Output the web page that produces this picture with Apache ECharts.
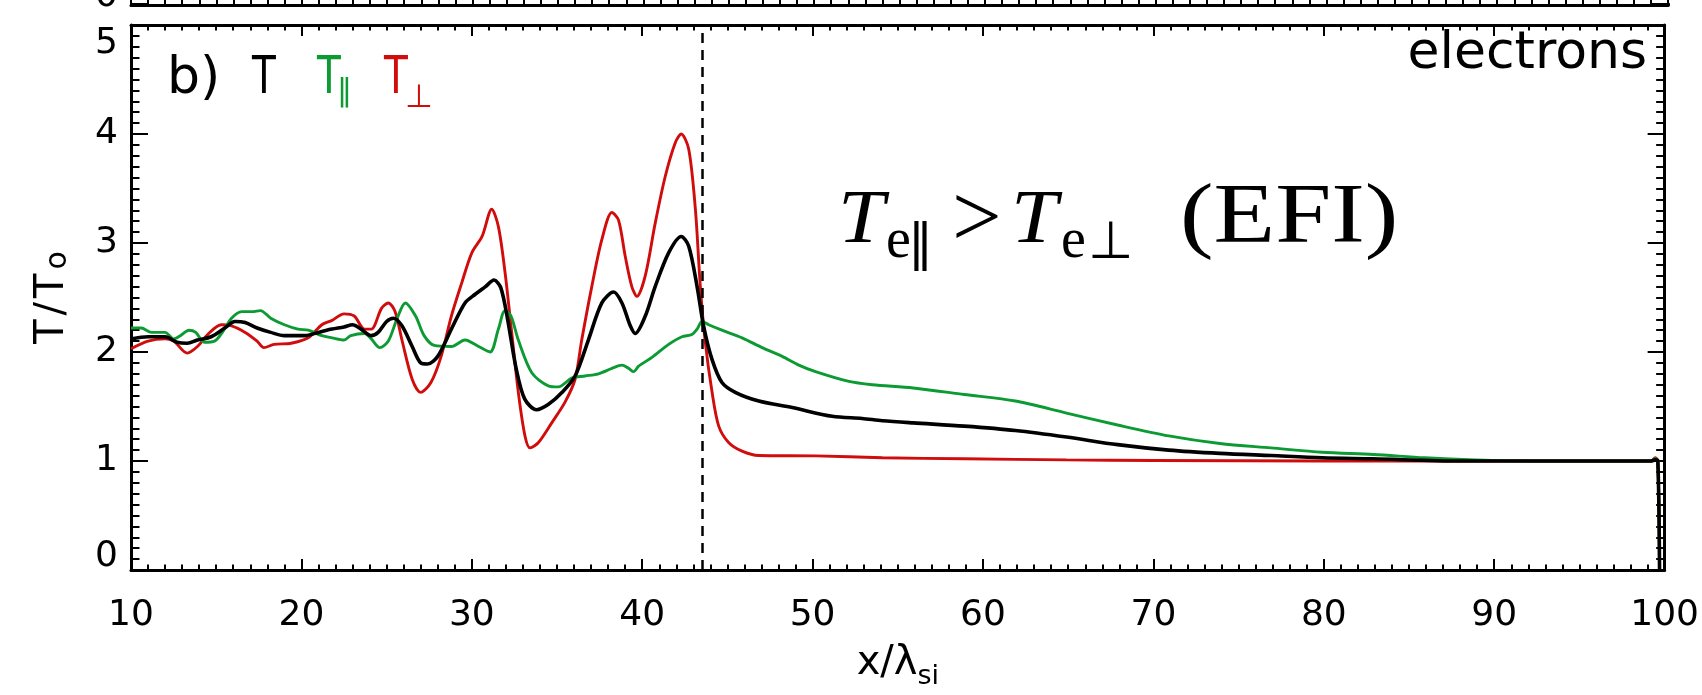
<!DOCTYPE html>
<html>
<head>
<meta charset="utf-8">
<script src="https://cdn.jsdelivr.net/npm/echarts@6/dist/echarts.min.js"></script>
<style>
  html, body { margin: 0; padding: 0; background: #fff; }
  #chart { width: 1702px; height: 695px; }
</style>
</head>
<body>
<div id="chart"></div>
<script>
// Electron temperature profiles across the shock, normalised to T0.
const xTicks = [10, 20, 30, 40, 50, 60, 70, 80, 90, 100];
const yTicks = [0, 1, 2, 3, 4, 5];
const shockX = 43.5;

// total temperature T
const tX = [10.0, 11.0, 12.0, 12.7, 13.3, 13.9, 14.7, 15.5, 16.1, 16.7, 17.4, 18.2, 19.0, 20.2, 21.0, 21.8, 22.5, 23.0, 23.5, 24.1,
  24.5, 25.0, 25.4, 25.9, 26.5, 27.0, 27.4, 28.0, 28.8, 29.6, 30.2, 30.8, 31.3, 31.7, 32.1, 32.6, 33.1, 33.8, 34.5, 35.3,
  36.06, 36.84, 37.63, 38.32, 38.81, 39.3, 39.59, 40.18, 40.76, 41.55, 42.29, 42.73, 43.22, 43.6, 44.1, 44.68, 45.46, 46.84, 48.8, 51.15,
  52.9, 54.1, 55.9, 58.9, 61.9, 64.9, 67.9, 70.9, 73.9, 76.9, 79.9, 82.9, 88.0, 95.0, 99.2, 99.45, 99.6, 99.7];
const tY = [2.12, 2.14, 2.14, 2.09, 2.08, 2.11, 2.14, 2.22, 2.28, 2.27, 2.22, 2.18, 2.15, 2.15, 2.18, 2.21, 2.23, 2.25, 2.21, 2.15,
  2.18, 2.28, 2.31, 2.24, 2.05, 1.90, 1.89, 1.96, 2.21, 2.45, 2.53, 2.60, 2.66, 2.59, 2.30, 1.85, 1.57, 1.47, 1.52, 1.63,
  1.78, 2.11, 2.45, 2.55, 2.45, 2.24, 2.17, 2.33, 2.60, 2.91, 3.06, 2.97, 2.60, 2.24, 1.93, 1.72, 1.63, 1.55, 1.49, 1.41,
  1.39, 1.37, 1.35, 1.32, 1.28, 1.22, 1.15, 1.10, 1.07, 1.05, 1.03, 1.02, 1.00, 1.00, 1.00, 1.01, 1.00, 0.0];

// parallel temperature T_par
const tParX = [10.0, 10.6, 11.2, 12.0, 12.5, 12.9, 13.4, 13.8, 14.3, 14.9, 15.4, 15.9, 16.5, 17.1, 17.6, 18.2, 19.0, 19.8, 20.4, 21.2,
  21.8, 22.5, 22.9, 23.7, 24.1, 24.6, 25.1, 25.6, 26.1, 26.7, 27.2, 27.8, 28.8, 29.6, 30.4, 31.07, 31.56, 31.95, 32.3, 32.73,
  33.52, 34.49, 35.08, 35.86, 36.64, 37.43, 38.22, 38.81, 39.2, 39.5, 39.79, 40.57, 41.55, 42.33, 42.92, 43.22, 43.51, 43.9, 44.68, 45.86,
  47.04, 48.21, 49.19, 50.17, 52.13, 53.5, 55.9, 58.9, 61.9, 64.9, 67.9, 70.9, 73.9, 76.9, 79.9, 82.9, 85.9, 88.9, 92.0, 99.2,
  99.45, 99.6, 99.7];
const tParY = [2.22, 2.22, 2.18, 2.18, 2.12, 2.15, 2.20, 2.18, 2.09, 2.10, 2.19, 2.31, 2.37, 2.37, 2.38, 2.31, 2.25, 2.21, 2.20, 2.15,
  2.13, 2.11, 2.15, 2.17, 2.12, 2.04, 2.10, 2.30, 2.45, 2.33, 2.15, 2.06, 2.05, 2.11, 2.05, 2.00, 2.21, 2.38, 2.33, 2.11,
  1.81, 1.69, 1.68, 1.76, 1.78, 1.80, 1.85, 1.88, 1.85, 1.82, 1.87, 1.95, 2.07, 2.14, 2.16, 2.21, 2.28, 2.25, 2.20, 2.13,
  2.04, 1.96, 1.88, 1.82, 1.73, 1.70, 1.67, 1.61, 1.55, 1.44, 1.33, 1.23, 1.16, 1.12, 1.08, 1.06, 1.03, 1.01, 1.00, 1.00,
  1.02, 1.00, 0.0];

// perpendicular temperature T_perp
const tPerpX = [10.0, 11.0, 12.0, 12.5, 13.3, 13.9, 14.5, 15.3, 15.9, 16.7, 17.4, 17.8, 18.4, 19.4, 20.4, 21.2, 21.8, 22.5, 23.1, 23.7,
  24.1, 24.7, 25.1, 25.5, 25.9, 26.5, 27.0, 27.6, 28.2, 28.8, 29.4, 30.0, 30.6, 31.17, 31.56, 31.95, 32.34, 32.73, 33.12, 33.42,
  33.91, 34.69, 35.47, 36.06, 36.45, 37.04, 37.63, 38.22, 38.61, 39.0, 39.39, 39.69, 40.18, 40.76, 41.35, 41.94, 42.29, 42.73, 43.12, 43.41,
  43.7, 44.1, 44.49, 45.07, 45.86, 46.84, 50.2, 54.1, 58.9, 64.9, 70.0, 80.0, 90.0, 99.2, 99.45, 99.6, 99.7];
const tPerpY = [2.03, 2.10, 2.12, 2.10, 1.99, 2.05, 2.16, 2.25, 2.24, 2.18, 2.10, 2.04, 2.07, 2.08, 2.13, 2.25, 2.29, 2.35, 2.33, 2.21,
  2.21, 2.40, 2.45, 2.37, 2.11, 1.75, 1.63, 1.72, 1.96, 2.33, 2.63, 2.91, 3.06, 3.31, 3.15, 2.73, 2.18, 1.63, 1.23, 1.12,
  1.17, 1.35, 1.54, 1.75, 2.11, 2.60, 3.03, 3.28, 3.21, 2.88, 2.60, 2.51, 2.70, 3.18, 3.61, 3.92, 4.00, 3.86, 3.31, 2.60,
  2.09, 1.63, 1.32, 1.17, 1.09, 1.05, 1.047, 1.03, 1.02, 1.01, 1.005, 1.00, 1.00, 1.00, 1.03, 1.00, 0.0];

const SANS = '"DejaVu Sans", sans-serif';
const SERIF = '"Liberation Serif", "DejaVu Serif", serif';
const RED = '#d00c0c';
const GREEN = '#0c9a33';

const pairs = (xs, ys) => xs.map((x, i) => [x, ys[i]]);

const lineStyle = { color: '#000', width: 3 };
const tickStyle = { color: '#000', width: 2 };
const digit = { fontFamily: SANS, fontSize: 36, color: '#000' };

function xAxisDef(gridIndex, position, withLabels) {
  const ax = {
    type: 'value', gridIndex, position,
    min: xTicks[0], max: xTicks[xTicks.length - 1], interval: xTicks[1] - xTicks[0],
    axisLine: { show: true, onZero: false, lineStyle },
    axisTick: { show: true, inside: true, length: 11, lineStyle: tickStyle },
    minorTick: { show: true, splitNumber: 10, length: 5.5, lineStyle: tickStyle },
    splitLine: { show: false },
    axisLabel: { show: false }
  };
  if (withLabels) {
    ax.axisLabel = Object.assign({ show: true, margin: 28 }, digit);
    ax.name = '{m|x/λ}{s|si}';
    ax.nameLocation = 'middle';
    ax.nameGap = 67;
    ax.nameTextStyle = {
      rich: {
        m: { fontFamily: SANS, fontSize: 40, color: '#000' },
        s: { fontFamily: SANS, fontSize: 27, color: '#000', padding: [26, 0, 0, 0] }
      }
    };
  }
  return ax;
}

// lower panel: full 0..5 scale; upper panel: only its bottom edge shows above the lower one
function yAxisDef(gridIndex, position, labelMode, maxVal) {
  const ax = {
    type: 'value', gridIndex, position,
    min: yTicks[0], max: maxVal, interval: yTicks[1] - yTicks[0],
    axisLine: { show: true, onZero: false, lineStyle },
    axisTick: { show: true, inside: true, length: 17, lineStyle: tickStyle },
    minorTick: { show: true, splitNumber: 10, length: 8.5, lineStyle: tickStyle },
    splitLine: { show: false },
    axisLabel: { show: false }
  };
  if (labelMode) {
    const rich = {
      n: digit,
      hi: Object.assign({ padding: [38, 0, 0, 0] }, digit),
      lo: Object.assign({ padding: [0, 0, 26, 0] }, digit),
      edge: Object.assign({ padding: [0, 0, 17, 0] }, digit)
    };
    ax.axisLabel = {
      show: true, margin: 13, rich,
      formatter: v => {
        if (labelMode === 'zeroOnly') return v === yTicks[0] ? '{edge|' + v + '}' : '';
        if (v === yTicks[yTicks.length - 1]) return '{hi|' + v + '}';
        if (v === yTicks[0]) return '{lo|' + v + '}';
        return '{n|' + v + '}';
      }
    };
  }
  if (labelMode === 'all') {
    ax.name = '{t|T}{sl|/}{t|T}{s|o}';
    ax.nameLocation = 'middle';
    ax.nameGap = 58;
    ax.nameRotate = 90;
    ax.nameTextStyle = {
      rich: {
        t: { fontFamily: SANS, fontSize: 40, color: '#000', padding: [0, 4, 0, 0] },
        sl: { fontFamily: SANS, fontSize: 40, color: '#000', padding: [0, 4, 0, 0] },
        s: { fontFamily: SANS, fontSize: 30, color: '#000', padding: [10, 0, 0, 0] }
      }
    };
  }
  return ax;
}

function txt(text, x, y, size, family, color, extra, scaleX) {
  const el = {
    type: 'text', x, y, silent: true,
    style: Object.assign({
      text, fill: color, fontSize: size, fontFamily: family,
      align: 'left', verticalAlign: 'middle'
    }, extra || {})
  };
  if (scaleX) el.scaleX = scaleX;
  return el;
}

const option = {
  backgroundColor: '#fff',
  animation: false,
  grid: [
    { left: 131, right: 34, top: 25, bottom: 124 },
    { left: 131, right: 34, top: 0, height: 4 }
  ],
  xAxis: [
    xAxisDef(0, 'bottom', true),
    xAxisDef(0, 'top', false),
    xAxisDef(1, 'bottom', false)
  ],
  yAxis: [
    yAxisDef(0, 'left', 'all', yTicks[yTicks.length - 1]),
    yAxisDef(0, 'right', null, yTicks[yTicks.length - 1]),
    yAxisDef(1, 'left', 'zeroOnly', 0.04),
    yAxisDef(1, 'right', null, 0.04)
  ],
  series: [
    {
      name: 'T⊥', type: 'line', xAxisIndex: 0, yAxisIndex: 0,
      data: pairs(tPerpX, tPerpY), showSymbol: false, smooth: 0.3,
      lineStyle: { color: RED, width: 2.9 }
    },
    {
      name: 'T∥', type: 'line', xAxisIndex: 0, yAxisIndex: 0,
      data: pairs(tParX, tParY), showSymbol: false, smooth: 0.3,
      lineStyle: { color: GREEN, width: 2.9 }
    },
    {
      name: 'T', type: 'line', xAxisIndex: 0, yAxisIndex: 0,
      data: pairs(tX, tY), showSymbol: false, smooth: 0.3,
      lineStyle: { color: '#000', width: 3.6 },
      markLine: {
        silent: true, symbol: ['none', 'none'], label: { show: false },
        lineStyle: { color: '#000', width: 2.5, type: [10, 7] },
        data: [{ xAxis: shockX }]
      }
    }
  ],
  graphic: [
    // panel tag and colour key
    txt('b)', 167, 79, 52, SANS, '#000'),
    txt('T', 252, 79, 52, SANS, '#000', null, 0.75),
    txt('T', 317, 79, 52, SANS, GREEN, null, 0.75),
    txt('‖', 337, 92, 30, SANS, GREEN),
    txt('T', 384, 79, 52, SANS, RED, null, 0.75),
    txt('⊥', 405, 99, 32, SANS, RED),
    // species label
    txt('electrons', 1647, 54, 52, SANS, '#000', { align: 'right' }),
    // instability annotation
    txt('T', 838, 222, 76, SERIF, '#000', { fontStyle: 'italic' }, 1.1),
    txt('e', 886, 242, 56, SERIF, '#000'),
    txt('‖', 908, 246, 50, SANS, '#000'),
    txt('>', 952, 223, 88, SERIF, '#000'),
    txt('T', 1011, 222, 76, SERIF, '#000', { fontStyle: 'italic' }, 1.1),
    txt('e', 1061, 242, 56, SERIF, '#000'),
    txt('⊥', 1088, 244, 52, SANS, '#000'),
    txt('(EFI)', 1180, 220, 84, SERIF, '#000', null, 1.2)
  ]
};

const chart = echarts.init(document.getElementById('chart'), null, { renderer: 'canvas' });
chart.setOption(option);
</script>
</body>
</html>
